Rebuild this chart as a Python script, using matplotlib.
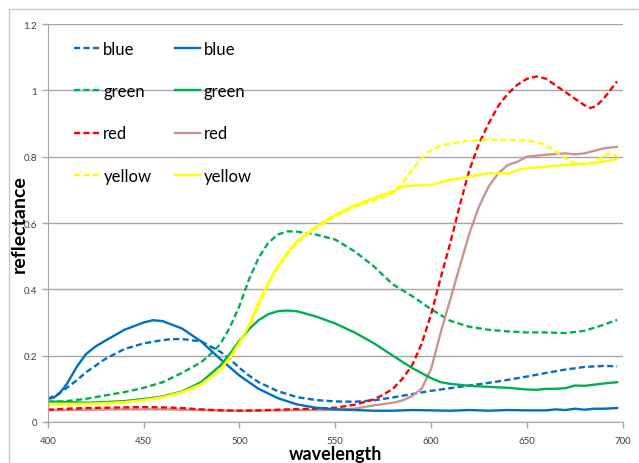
import matplotlib
matplotlib.use("Agg")
import matplotlib.pyplot as plt
from matplotlib.patches import Rectangle
from matplotlib.lines import Line2D

# data
bd_wl = [400,405,410,415,420,430,440,450,460,465,470,480,490,495,500,505,510,520,530,540,550,560,570,580,590,600,610,620,630,640,650,660,670,680,690,697]
bd_val = [0.07,0.083,0.103,0.125,0.15,0.19,0.22,0.237,0.247,0.25,0.25,0.243,0.212,0.19,0.163,0.14,0.12,0.093,0.075,0.066,0.062,0.061,0.065,0.074,0.084,0.094,0.102,0.11,0.118,0.127,0.137,0.148,0.158,0.166,0.169,0.168]

bs_wl = [400,403,406,410,415,420,425,430,440,450,455,460,470,480,490,500,510,520,530,540,550,560,570,580,590,600,610,620,630,640,650,660,665,670,675,680,685,690,697]
bs_val = [0.07,0.073,0.085,0.115,0.165,0.205,0.228,0.245,0.278,0.30,0.307,0.304,0.282,0.243,0.19,0.14,0.10,0.072,0.053,0.043,0.038,0.036,0.034,0.034,0.036,0.035,0.034,0.036,0.034,0.036,0.035,0.035,0.038,0.036,0.04,0.037,0.04,0.04,0.042]

gd_wl = [400,410,420,430,440,450,460,470,480,485,490,495,500,505,510,515,520,525,530,540,550,560,570,580,590,600,610,620,630,640,650,660,670,680,690,697]
gd_val = [0.06,0.063,0.07,0.08,0.09,0.103,0.12,0.148,0.18,0.205,0.235,0.285,0.35,0.43,0.495,0.54,0.565,0.575,0.574,0.565,0.55,0.515,0.47,0.415,0.38,0.34,0.305,0.287,0.278,0.273,0.27,0.27,0.268,0.275,0.293,0.308]

gs_wl = [400,410,420,430,440,450,460,470,480,490,495,500,505,510,515,520,525,530,540,550,560,570,580,590,600,605,610,620,630,640,650,655,660,665,670,675,680,690,697]
gs_val = [0.062,0.06,0.058,0.06,0.063,0.069,0.077,0.092,0.12,0.17,0.205,0.245,0.28,0.307,0.325,0.334,0.336,0.334,0.318,0.297,0.27,0.238,0.2,0.163,0.132,0.12,0.115,0.109,0.106,0.103,0.098,0.097,0.1,0.1,0.102,0.11,0.109,0.116,0.12]

rd_wl = [400,410,420,430,440,450,460,470,480,490,500,510,520,530,540,550,560,570,575,580,585,590,595,600,605,610,615,620,625,630,635,640,645,650,655,660,665,670,675,680,683,686,690,694,697]
rd_val = [0.037,0.04,0.042,0.043,0.044,0.045,0.044,0.042,0.038,0.035,0.034,0.035,0.037,0.039,0.04,0.043,0.052,0.068,0.082,0.10,0.13,0.17,0.235,0.325,0.435,0.54,0.655,0.76,0.84,0.90,0.953,0.99,1.017,1.035,1.042,1.035,1.015,0.995,0.975,0.955,0.947,0.952,0.975,1.005,1.027]

rs_wl = [400,420,440,460,480,500,520,540,550,560,570,580,585,590,595,600,605,610,615,620,625,630,635,640,645,650,655,660,670,675,680,690,697]
rs_val = [0.035,0.037,0.038,0.038,0.036,0.034,0.035,0.036,0.037,0.04,0.05,0.058,0.065,0.078,0.1,0.16,0.27,0.37,0.47,0.57,0.65,0.71,0.75,0.775,0.785,0.80,0.803,0.806,0.81,0.807,0.81,0.825,0.83]

yd_wl = [400,410,420,430,440,450,460,470,480,490,495,500,505,510,515,520,525,530,540,550,560,570,575,580,585,590,595,600,605,610,620,630,640,650,655,660,665,670,675,680,685,690,693,697]
yd_val = [0.052,0.053,0.054,0.056,0.059,0.065,0.074,0.088,0.112,0.155,0.19,0.235,0.285,0.35,0.415,0.465,0.505,0.54,0.585,0.62,0.648,0.668,0.678,0.69,0.72,0.76,0.795,0.82,0.833,0.84,0.848,0.851,0.851,0.848,0.845,0.835,0.815,0.795,0.78,0.778,0.783,0.803,0.81,0.803]

ys_wl = [400,410,420,430,440,450,460,470,480,490,495,500,505,510,515,520,525,530,540,550,560,570,580,585,590,600,610,620,630,637,640,645,650,660,670,680,690,697]
ys_val = [0.055,0.055,0.055,0.057,0.06,0.066,0.075,0.09,0.114,0.157,0.195,0.24,0.29,0.36,0.42,0.47,0.51,0.545,0.59,0.625,0.653,0.675,0.695,0.71,0.713,0.715,0.73,0.74,0.75,0.75,0.748,0.76,0.765,0.77,0.775,0.778,0.785,0.793]

x_ticks = [400, 450, 500, 550, 600, 650, 700]
y_ticks = [0, 0.2, 0.4, 0.6, 0.8, 1, 1.2]
y_tick_labels = ['0', '0.2', '0.4', '0.6', '0.8', '1', '1.2']

plt.rcParams['font.family'] = ['Lato', 'DejaVu Sans']

fig = plt.figure(figsize=(6.39, 4.64), dpi=100)
ax = fig.add_axes([0.0747, 0.0884, 0.9, 0.8576])

# outer chart frame (runs off the right and bottom edges)
fig.patches.append(Rectangle((9/639, -0.1), 1.1, 1.1 - 10/464, transform=fig.transFigure,
                             fill=False, edgecolor='#C8C8C8', lw=1))

lw = 1.7
dash = (0, (2.6, 1.4))
cols = {'blue': '#0070C0', 'green': '#00B050', 'red': '#FF0000', 'rose': '#C99593', 'yellow': '#FFFF00'}

ax.plot(bd_wl, bd_val, color=cols['blue'], lw=lw, ls=dash)
ax.plot(gd_wl, gd_val, color=cols['green'], lw=lw, ls=dash)
ax.plot(rs_wl, rs_val, color=cols['rose'], lw=lw)
ax.plot(rd_wl, rd_val, color=cols['red'], lw=lw, ls=dash)
ax.plot(yd_wl, yd_val, color=cols['yellow'], lw=lw, ls=dash)
ax.plot(bs_wl, bs_val, color=cols['blue'], lw=lw)
ax.plot(gs_wl, gs_val, color=cols['green'], lw=lw)
ax.plot(ys_wl, ys_val, color=cols['yellow'], lw=lw)

names = ['blue', 'green', 'red', 'yellow']
handles = [Line2D([], [], color=cols[n], lw=lw, ls=dash) for n in names]
handles += [Line2D([], [], color=cols['rose' if n == 'red' else n], lw=lw) for n in names]
ax.legend(handles, names + names, ncol=2, loc='upper left', bbox_to_anchor=(0.046, 0.958),
          frameon=False, fontsize=12, borderpad=0, borderaxespad=0,
          labelspacing=1.58, handlelength=1.5, handletextpad=0.25, columnspacing=1.4)

ax.set_xlim(400, 700)
ax.set_ylim(0, 1.2)
ax.set_xticks(x_ticks)
ax.set_yticks(y_ticks)
ax.set_yticklabels(y_tick_labels)
ax.grid(axis='y', color='#A6A6A6', lw=1)
ax.set_axisbelow(True)
for s in ['top', 'right']:
    ax.spines[s].set_visible(False)
for s in ['left', 'bottom']:
    ax.spines[s].set_color('#A6A6A6')
ax.tick_params(axis='both', labelsize=7, colors='#A6A6A6', labelcolor='#404040', length=4, width=1)
ax.tick_params(axis='x', pad=6)

ax.set_xlabel('wavelength', fontsize=13, fontweight='bold')
ax.set_ylabel('reflectance', fontsize=14, fontweight='bold')
ax.xaxis.set_label_coords(0.5, -0.058)
ax.yaxis.set_label_coords(-0.034, 0.5)

fig.savefig('out.png', dpi=100)
